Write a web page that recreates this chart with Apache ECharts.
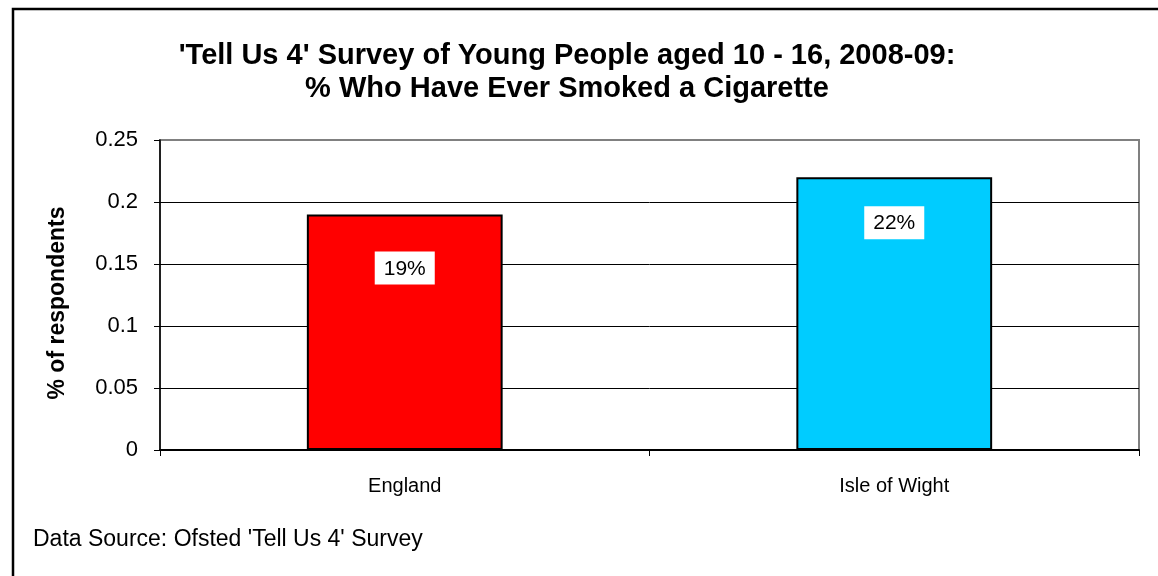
<!DOCTYPE html>
<html><head><meta charset="utf-8">
<script src="https://cdn.jsdelivr.net/npm/echarts@6/dist/echarts.min.js"></script>
<style>html,body{margin:0;padding:0;background:#fff}#c{width:1158px;height:576px}</style>
</head><body><div id="c"></div>
<script>
const categories = ['England', 'Isle of Wight'];
const values = [0.19, 0.22];
const barColors = ['#ff0000', '#00ccff'];
const labelDistances = [37, 29];
const titleText = "'Tell Us 4' Survey of Young People aged 10 - 16, 2008-09:\n% Who Have Ever Smoked a Cigarette";
const yAxisName = '% of respondents';
const sourceText = "Data Source: Ofsted 'Tell Us 4' Survey";

const FF = 'Liberation Sans, Arial, sans-serif';
const chart = echarts.init(document.getElementById('c'), null, {renderer: 'canvas'});
chart.setOption({
  animation: false,
  backgroundColor: '#fff',
  title: {
    text: titleText,
    left: 567, top: 39, textAlign: 'center', padding: 0,
    textStyle: {fontFamily: FF, fontSize: 29, fontWeight: 'bold', color: '#000', lineHeight: 33}
  },
  graphic: [
    {type: 'rect', shape: {x: 13, y: 9, width: 1200, height: 620}, style: {fill: 'none', stroke: '#000', lineWidth: 2.5}, silent: true, z: 100},
    {type: 'text', x: 33, y: 540, style: {text: sourceText, font: '23px ' + FF, fill: '#000', verticalAlign: 'middle'}},
    {type: 'text', x: 58, y: 303, rotation: Math.PI / 2, style: {text: yAxisName, font: 'bold 23px ' + FF, fill: '#000', align: 'center', verticalAlign: 'middle'}}
  ],
  grid: {left: 160, right: 19, top: 140, bottom: 126, show: true, borderColor: '#808080', borderWidth: 2, backgroundColor: 'transparent'},
  xAxis: {
    type: 'category', data: categories, boundaryGap: true,
    axisLine: {lineStyle: {color: '#000', width: 2}},
    axisTick: {show: true, alignWithLabel: false, length: 6, lineStyle: {color: '#000'}},
    axisLabel: {margin: 26, fontFamily: FF, fontSize: 20, color: '#000'}
  },
  yAxis: {
    type: 'value', min: 0, max: 0.25, interval: 0.05,
    axisLine: {show: true, lineStyle: {color: '#000', width: 1.5}},
    axisTick: {show: true, length: 6, lineStyle: {color: '#000'}},
    axisLabel: {margin: 22, fontFamily: FF, fontSize: 22, color: '#000'},
    splitLine: {show: true, lineStyle: {color: ['#000', '#000', '#000', '#000', '#000', '#808080'], width: 1}}
  },
  series: [{
    type: 'bar', barWidth: '40%',
    data: values.map((v, i) => ({
      value: v,
      itemStyle: {color: barColors[i]},
      label: {distance: labelDistances[i]}
    })),
    itemStyle: {borderColor: '#000', borderWidth: 2},
    label: {
      show: true, position: 'insideTop',
      formatter: p => Math.round(p.value * 100) + '%',
      backgroundColor: '#fff', padding: [7, 9, 5, 9],
      fontFamily: FF, fontSize: 21, color: '#000'
    }
  }]
});
</script></body></html>
